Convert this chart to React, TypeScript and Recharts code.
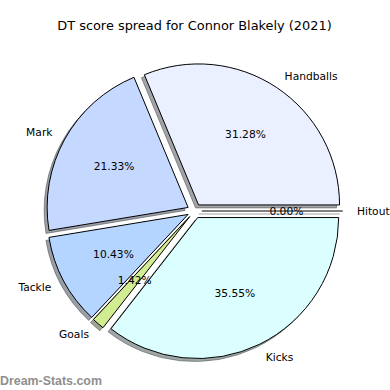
import React from 'react';
import { PieChart, Pie, Sector } from 'recharts';

// ---- data ----
const categories = ['Handballs', 'Mark', 'Tackle', 'Goals', 'Kicks', 'Hitout'];
const shares = [31.28, 21.33, 10.43, 1.42, 35.55, 0.0];
const sliceColors = ['#eaf0ff', '#c5d8ff', '#b4d5ff', '#d2ec91', '#dbffff', '#ffe4e1'];
const titleText = 'DT score spread for Connor Blakely (2021)';
const watermarkText = 'Dream-Stats.com';

const data = categories.map((name, i) => ({ name, value: shares[i] }));

// ---- layout / style ----
const W = 390;
const H = 390;
const CX = 194.5;
const CY = 211;
const R = 141;
const EXPLODE = 7.3;
const SHADOW_DX = -3;
const SHADOW_DY = 3;
const LABEL_DIST = 1.1;
const PCT_DIST = 0.6;
const FONT = '"DejaVu Sans", sans-serif';
const FS = 10.7;
const RAD = Math.PI / 180;

type P = {
  cx: number;
  cy: number;
  outerRadius: number;
  startAngle: number;
  endAngle: number;
  percent: number;
  index: number;
  name: string;
};

const mid = (p: P) => (p.startAngle + p.endAngle) / 2;

const at = (x: number, y: number, r: number, angle: number) => ({
  x: x + r * Math.cos(-angle * RAD),
  y: y + r * Math.sin(-angle * RAD),
});

const explodedCenter = (p: P) => at(p.cx, p.cy, EXPLODE, mid(p));

const shadeColor = (hex: string) => {
  const n = parseInt(hex.slice(1), 16);
  const r = Math.round(((n >> 16) & 255) * 0.3);
  const g = Math.round(((n >> 8) & 255) * 0.3);
  const b = Math.round((n & 255) * 0.3);
  return `rgba(${r},${g},${b},0.5)`;
};

function Wedge({ p, dx, dy, fill, stroke }: { p: P; dx: number; dy: number; fill: string; stroke: string }) {
  const c = explodedCenter(p);
  const x = c.x + dx;
  const y = c.y + dy;
  if (Math.abs(p.endAngle - p.startAngle) < 1e-6) {
    const e = at(x, y, p.outerRadius, mid(p));
    return <line x1={x} y1={y} x2={e.x} y2={e.y} stroke={stroke} strokeWidth={1} />;
  }
  return (
    <Sector
      cx={x}
      cy={y}
      innerRadius={0}
      outerRadius={p.outerRadius}
      startAngle={p.startAngle}
      endAngle={p.endAngle}
      fill={fill}
      stroke={stroke}
      strokeWidth={1}
      strokeLinejoin="miter"
    />
  );
}

const renderShadow = (props: any) => {
  const p = props as P;
  const col = shadeColor(sliceColors[p.index]);
  return <Wedge key={`s${p.index}`} p={p} dx={SHADOW_DX} dy={SHADOW_DY} fill={col} stroke={col} />;
};

const renderWedge = (props: any) => {
  const p = props as P;
  return <Wedge key={`w${p.index}`} p={p} dx={0} dy={0} fill={sliceColors[p.index]} stroke="#000" />;
};

const renderTexts = (props: any) => {
  const p = props as P;
  const c = explodedCenter(p);
  const m = mid(p);
  const lp = at(c.x, c.y, p.outerRadius * LABEL_DIST, m);
  const pp = at(c.x, c.y, p.outerRadius * PCT_DIST, m);
  const cosv = Math.cos(m * RAD);
  const anchor = Math.abs(cosv) < 1e-9 ? 'middle' : cosv > 0 ? 'start' : 'end';
  return (
    <g key={`t${p.index}`}>
      <text x={lp.x} y={lp.y} dy="0.34em" textAnchor={anchor} fontFamily={FONT} fontSize={FS} fill="#000">
        {p.name}
      </text>
      <text x={pp.x} y={pp.y} dy="0.34em" textAnchor="middle" fontFamily={FONT} fontSize={FS} fill="#000">
        {`${(p.percent * 100).toFixed(2)}%`}
      </text>
    </g>
  );
};

const pieCommon = {
  data,
  dataKey: 'value',
  nameKey: 'name',
  cx: CX,
  cy: CY,
  innerRadius: 0,
  outerRadius: R,
  startAngle: 0,
  endAngle: 360,
  paddingAngle: 0,
  fill: 'none',
  stroke: 'none',
  labelLine: false,
  isAnimationActive: false,
  legendType: 'none' as const,
};

export default function App() {
  return (
    <div style={{ position: 'absolute', left: 0, top: 0, width: W, height: H, background: '#fff' }}>
      <PieChart width={W} height={H} margin={{ top: 0, right: 0, bottom: 0, left: 0 }}>
        <Pie {...pieCommon} label={renderShadow} />
        <Pie {...pieCommon} label={renderWedge} />
        <Pie {...pieCommon} label={renderTexts} />
      </PieChart>
      <svg
        width={W}
        height={H}
        style={{ position: 'absolute', left: 0, top: 0, pointerEvents: 'none' }}
      >
        <text x={194.5} y={29.5} textAnchor="middle" fontFamily={FONT} fontSize={12.9} fill="#000">
          {titleText}
        </text>
        <text x={0} y={385} fontFamily='"Liberation Sans", Arial, sans-serif' fontWeight="bold" fontSize={12.4} fill="#8f8f8f">
          {watermarkText}
        </text>
      </svg>
    </div>
  );
}
